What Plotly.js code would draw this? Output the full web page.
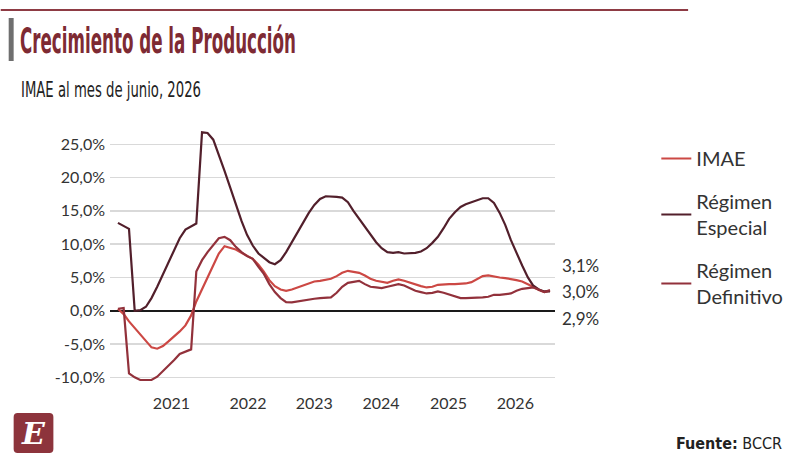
<!DOCTYPE html>
<html>
<head>
<meta charset="utf-8">
<script src="https://cdn.plot.ly/plotly-3.0.1.min.js"></script>
<style>
  html, body { margin: 0; padding: 0; background: #fff; }
  #grafico { width: 800px; height: 458px; }
</style>
</head>
<body>
<div id="grafico"></div>
<script>
// ==== DATOS ================================================================
// Serie mensual: enero 2020 a junio 2026 (tasa de variación interanual, %).
const anioInicio = 2020;
const numMeses = 78;
const meses = [];
for (let i = 0; i < numMeses; i++) {
    const anio = anioInicio + Math.floor(i / 12);
    const mes = String((i % 12) + 1).padStart(2, "0");
    meses.push(`${anio}-${mes}-01`);
}

const imae = [
    0.3, -0.5, -1.6, -2.6, -3.6, -4.6, -5.5, -5.7, -5.3, -4.6, -3.9, -3.1,
    -2.2, -0.7, 1.4, 3.2, 4.9, 6.8, 8.6, 9.7, 9.5, 9.2, 8.7, 8.2,
    7.8, 6.9, 5.9, 4.6, 3.7, 3.2, 3.0, 3.2, 3.5, 3.9, 4.2, 4.4,
    4.5, 4.6, 4.8, 5.2, 5.7, 6.0, 5.9, 5.7, 5.3, 4.8, 4.5, 4.3,
    4.2, 4.5, 4.7, 4.5, 4.2, 3.9, 3.7, 3.5, 3.6, 3.9, 4.0, 4.0,
    4.0, 4.0, 4.1, 4.3, 4.7, 5.2, 5.3, 5.1, 5.0, 4.9, 4.8, 4.6,
    4.4, 4.0, 3.6, 3.1, 2.8, 3.0,
];

const regimenEspecial = [
    13.2, 12.7, 12.3, 0.0, 0.1, 0.6, 1.9, 3.6, 5.4, 7.2, 9.1, 10.9,
    12.2, 12.7, 13.1, 26.8, 26.7, 25.7, 23.5, 21.0, 18.5, 16.0, 13.5, 11.4,
    9.8, 8.6, 8.0, 7.3, 7.0, 7.6, 8.8, 10.3, 11.8, 13.3, 14.7, 15.9,
    16.8, 17.2, 17.1, 17.1, 17.0, 16.3, 15.0, 13.8, 12.5, 11.4, 10.3, 9.4,
    8.8, 8.7, 8.8, 8.6, 8.6, 8.7, 8.9, 9.4, 10.2, 11.1, 12.4, 13.8,
    14.8, 15.6, 16.0, 16.3, 16.6, 16.9, 16.9, 16.2, 14.7, 12.9, 10.6, 8.6,
    6.8, 5.0, 3.8, 3.2, 2.9, 2.9,
];

const regimenDefinitivo = [
    0.3, 0.4, -9.4, -10.0, -10.4, -10.4, -10.4, -9.9, -9.1, -8.3, -7.4, -6.5,
    -6.2, -5.8, 5.9, 7.6, 8.8, 9.9, 10.9, 11.1, 10.6, 9.6, 8.8, 8.2,
    7.8, 6.6, 5.6, 4.0, 2.8, 1.9, 1.3, 1.25, 1.4, 1.6, 1.7, 1.8,
    1.9, 2.0, 2.0, 2.7, 3.6, 4.2, 4.4, 4.5, 4.0, 3.6, 3.5, 3.4,
    3.6, 3.8, 4.0, 3.8, 3.4, 3.0, 2.8, 2.6, 2.7, 2.9, 2.7, 2.4,
    2.1, 1.9, 1.9, 1.9, 1.9, 2.0, 2.1, 2.4, 2.4, 2.5, 2.6, 3.0,
    3.3, 3.4, 3.5, 3.2, 2.8, 3.1,
];

// Etiquetas de los ejes.
const anios = ["2021", "2022", "2023", "2024", "2025", "2026"];
const aniosPosicion = ["2020-10-17", "2021-12-06", "2022-12-01", "2023-11-28", "2024-11-28", "2025-11-25"];
const yValores = [-10, -5, 0, 5, 10, 15, 20, 25];
const yTextos = ["-10,0%", "-5,0%", "0,0%", "5,0%", "10,0%", "15,0%", "20,0%", "25,0%"];

// Últimos valores (junio 2026).
const etiquetasFinales = ["3,1%", "3,0%", "2,9%"];

// ==== GEOMETRÍA =============================================================
const W = 800, H = 458;
const M = { l: 110, r: 242, t: 131, b: 74 };
const anchoArea = W - M.l - M.r;
const altoArea = H - M.t - M.b;
// Conversión de píxeles a coordenadas "paper".
const px = (x) => (x - M.l) / anchoArea;
const py = (y) => (H - M.b - y) / altoArea;

const GRANATE = "#7e2a33";
const fuenteBase = "Lato, 'Noto Sans', sans-serif";
const fuenteEstrecha = "'Liberation Sans Narrow', 'DejaVu Sans Condensed', Roboto, sans-serif";

// Textos que se comprimen al ancho del original (letra condensada).
const anchosTexto = {
    "Crecimiento de la Producción": 276,
    "IMAE al mes de junio, 2026": 180,
    "Fuente: BCCR": 106,
};

// ==== TRAZAS ================================================================
const trazas = [
    {
        x: meses, y: imae, name: "IMAE",
        type: "scatter", mode: "lines",
        line: { color: "#cc4844", width: 2.2 },
        legendgroup: "a",
    },
    {
        x: meses, y: regimenEspecial, name: "Régimen<br>Especial",
        type: "scatter", mode: "lines",
        line: { color: "#521f2b", width: 2.2 },
        legendgroup: "b",
    },
    {
        x: meses, y: regimenDefinitivo, name: "Régimen<br>Definitivo",
        type: "scatter", mode: "lines",
        line: { color: "#92313b", width: 2.2 },
        legendgroup: "c",
    },
];

// ==== ANOTACIONES ===========================================================
const anotaciones = [
    {
        text: "IMAE al mes de junio, 2026",
        xref: "paper", yref: "paper", x: px(18), y: py(89),
        xanchor: "left", yanchor: "middle", showarrow: false,
        font: { family: fuenteEstrecha, size: 22, color: "#222" },
    },
    {
        text: "<b>Fuente:</b> BCCR",
        xref: "paper", yref: "paper", x: px(678), y: py(443),
        xanchor: "left", yanchor: "middle", showarrow: false,
        font: { family: fuenteEstrecha, size: 16, color: "#222" },
    },
    {
        text: "<i><b>E</b></i>",
        xref: "paper", yref: "paper", x: px(33), y: py(433),
        xanchor: "center", yanchor: "middle", showarrow: false,
        font: { family: "'DejaVu Serif', serif", size: 30, color: "#fff" },
    },
];
const yEtiquetas = [265, 291, 318];
etiquetasFinales.forEach((t, i) => {
    anotaciones.push({
        text: t, xref: "paper", yref: "paper", x: px(563), y: py(yEtiquetas[i]),
        xanchor: "left", yanchor: "middle", showarrow: false,
        font: { family: fuenteBase, size: 17, color: "#333" },
    });
});

// Rectángulo redondeado del logo (en coordenadas paper).
const logo = { x0: 13, x1: 53, y0: 413, y1: 453, r: 4 };
const rutaLogo = [
    `M${px(logo.x0 + logo.r)},${py(logo.y0)}`,
    `L${px(logo.x1 - logo.r)},${py(logo.y0)}`,
    `Q${px(logo.x1)},${py(logo.y0)} ${px(logo.x1)},${py(logo.y0 + logo.r)}`,
    `L${px(logo.x1)},${py(logo.y1 - logo.r)}`,
    `Q${px(logo.x1)},${py(logo.y1)} ${px(logo.x1 - logo.r)},${py(logo.y1)}`,
    `L${px(logo.x0 + logo.r)},${py(logo.y1)}`,
    `Q${px(logo.x0)},${py(logo.y1)} ${px(logo.x0)},${py(logo.y1 - logo.r)}`,
    `L${px(logo.x0)},${py(logo.y0 + logo.r)}`,
    `Q${px(logo.x0)},${py(logo.y0)} ${px(logo.x0 + logo.r)},${py(logo.y0)} Z`,
].join(" ");

// Formas decorativas: línea superior, barra gris del título y logo.
const formas = [
    {
        type: "line", xref: "paper", yref: "paper",
        x0: px(0), x1: px(692), y0: py(10), y1: py(10),
        line: { color: "#8e3b44", width: 2 },
    },
    {
        type: "rect", xref: "paper", yref: "paper",
        x0: px(8), x1: px(13), y0: py(18), y1: py(61),
        fillcolor: "#6f6f6f", line: { width: 0 },
    },
    {
        type: "path", xref: "paper", yref: "paper", path: rutaLogo,
        fillcolor: "#8d343c", line: { width: 0 },
    },
];

// ==== LAYOUT ================================================================
const layout = {
    width: W, height: H,
    margin: M,
    paper_bgcolor: "#fff", plot_bgcolor: "#fff",
    showlegend: true,
    title: {
        text: "Crecimiento de la Producción",
        xref: "container", yref: "container",
        x: 20 / W, y: 1 - 40 / H, xanchor: "left", yanchor: "middle",
        font: { family: fuenteEstrecha, size: 36, color: GRANATE, weight: 600 },
    },
    xaxis: {
        type: "date",
        range: ["2019-11-19", "2026-06-28"],
        tickvals: aniosPosicion, ticktext: anios,
        showgrid: false, zeroline: false, showline: false, ticks: "",
        tickfont: { family: fuenteBase, size: 16, color: "#333" },
        ticklabelstandoff: 8,
    },
    yaxis: {
        range: [-11, 27],
        tickvals: yValores, ticktext: yTextos,
        showgrid: true, gridcolor: "#d9d9d9", gridwidth: 1.5,
        zeroline: true, zerolinecolor: "#1a1a1a", zerolinewidth: 2,
        showline: false, ticks: "",
        tickfont: { family: fuenteBase, size: 16, color: "#333" },
        ticklabelstandoff: 4,
    },
    legend: {
        x: px(660), y: py(139), xanchor: "left", yanchor: "top",
        font: { family: fuenteBase, size: 20, color: "#333" },
        traceorder: "grouped", tracegroupgap: 14,
        itemwidth: 30, bgcolor: "rgba(0,0,0,0)",
    },
    annotations: anotaciones,
    shapes: formas,
};

Plotly.newPlot("grafico", trazas, layout, { displayModeBar: false, staticPlot: true }).then(() => {
    // El original usa una letra condensada: se ajusta el ancho de algunos textos
    // manteniendo fijo su borde izquierdo.
    document.querySelectorAll(".gtitle, .annotation-text").forEach((t) => {
        const ancho = anchosTexto[t.textContent];
        if (ancho) {
            const caja = t.getBBox();
            t.setAttribute("x", String(caja.x));
            t.setAttribute("text-anchor", "start");
            t.style.textAnchor = "start";
            t.setAttribute("textLength", String(ancho));
            t.setAttribute("lengthAdjust", "spacingAndGlyphs");
        }
    });
});
</script>
</body>
</html>
